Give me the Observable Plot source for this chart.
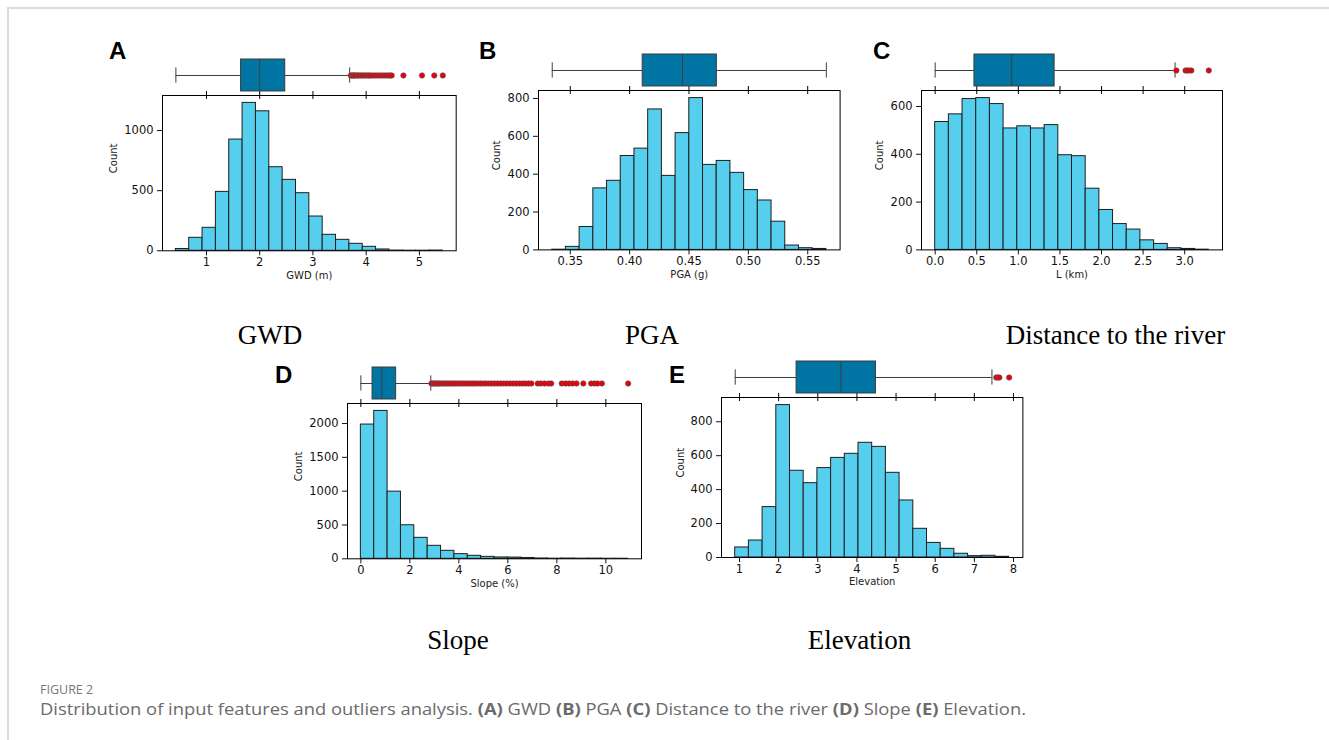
<!DOCTYPE html>
<html>
<head>
<meta charset="utf-8">
<script src="https://cdn.jsdelivr.net/npm/d3@7"></script>
<script src="https://cdn.jsdelivr.net/npm/@observablehq/plot@0.6"></script>
<style>
  html, body { margin: 0; padding: 0; background: #fff; }
  body { width: 1329px; height: 740px; position: relative; overflow: hidden; }
  .sheet { position: absolute; left: 7px; top: 7px; right: -2px; bottom: -2px;
           border-top: 2px solid #dcdcdc; border-left: 2px solid #dcdcdc; }
  .chart { position: absolute; }
  .chart svg { overflow: visible; display: block; background: transparent !important;
               font-family: "DejaVu Sans", sans-serif !important; font-size: 11.5px !important; }
  #labels { position: absolute; left: 0; top: 0; }
</style>
</head>
<body>
<div class="sheet"></div>
<div id="charts"></div>
<svg id="labels" width="1329" height="740"></svg>
<script>
// ---- Histogram counts (20 equal-width bins between the data minimum and maximum)
const gwdCounts   = [15, 108, 191, 490, 925, 1230, 1160, 695, 590, 479, 285, 133, 91, 58, 33, 11, 2, 1, 1, 2];
const pgaCounts   = [1, 16, 121, 325, 365, 496, 535, 742, 391, 617, 802, 449, 470, 407, 316, 261, 149, 23, 9, 5];
const riverCounts = [535, 567, 631, 635, 610, 508, 517, 508, 522, 396, 392, 256, 167, 108, 85, 40, 25, 7, 4, 1];
const slopeCounts = [1985, 2187, 993, 496, 310, 192, 118, 69, 44, 29, 20, 18, 12, 5, 2, 4, 2, 3, 1, 1];
const elevCounts  = [59, 100, 297, 898, 511, 438, 527, 587, 611, 676, 652, 499, 336, 169, 86, 51, 22, 8, 10, 4];

// ---- Box plot summaries: [lower whisker, Q1, median, Q3, upper whisker]
const gwdBox   = [0.425, 1.65, 2.00, 2.48, 3.69];
const pgaBox   = [0.3348, 0.411, 0.4445, 0.4735, 0.5657];
const riverBox = [0.0, 0.472, 0.92, 1.436, 2.884];
const slopeBox = [0.0, 0.477, 0.857, 1.44, 2.855];
const elevBox  = [0.89, 2.458, 3.59, 4.486, 7.45];

// ---- Outliers beyond the whiskers
const gwdOutliers = [3.71, 3.73, 3.75, 3.77, 3.79, 3.81, 3.84, 3.86, 3.89, 3.92, 3.95, 3.98, 4.01, 4.04,
  4.07, 4.10, 4.14, 4.18, 4.22, 4.26, 4.30, 4.34, 4.38, 4.42, 4.45, 4.48, 4.70, 5.05, 5.28, 5.44];
const pgaOutliers = [];
const riverOutliers = [2.90, 3.01, 3.03, 3.05, 3.08, 3.29];
const slopeOutliers = [2.88, 2.93, 2.98, 3.04, 3.10, 3.16, 3.22, 3.29, 3.36, 3.43, 3.50, 3.58, 3.66, 3.74,
  3.82, 3.90, 3.99, 4.08, 4.17, 4.26, 4.36, 4.46, 4.56, 4.66, 4.77, 4.88, 4.99, 5.10, 5.22, 5.34, 5.46,
  5.58, 5.70, 5.83, 5.96, 6.09, 6.22, 6.35, 6.48, 6.60, 6.72, 6.84, 6.96, 7.22, 7.35, 7.50, 7.66, 7.77,
  8.20, 8.36, 8.50, 8.64, 8.80, 9.08, 9.40, 9.54, 9.66, 9.84, 10.91];
const elevOutliers = [7.56, 7.60, 7.64, 7.89];

// ---- Tick values
const gwdXTicks = [1, 2, 3, 4, 5];
const pgaXTicks = [0.35, 0.40, 0.45, 0.50, 0.55];
const riverXTicks = [0.0, 0.5, 1.0, 1.5, 2.0, 2.5, 3.0];
const slopeXTicks = [0, 2, 4, 6, 8, 10];
const elevXTicks = [1, 2, 3, 4, 5, 6, 7, 8];
const gwdYTicks = [0, 500, 1000];
const pgaYTicks = [0, 200, 400, 600, 800];
const riverYTicks = [0, 200, 400, 600];
const slopeYTicks = [0, 500, 1000, 1500, 2000];
const elevYTicks = [0, 200, 400, 600, 800];

// ---- Labels
const panelLetters = ["A", "B", "C", "D", "E"];
const xLabels = ["GWD (m)", "PGA (g)", "L (km)", "Slope (%)", "Elevation"];
const panelTitles = ["GWD", "PGA", "Distance to the river", "Slope", "Elevation"];

// ---- Layout of each panel: histogram frame [left, top, right, bottom] in page pixels
const layout = [
  {frame: [162.3, 95.0, 456.0, 250.3], countDx: -49.0, letter: [109, 59], title: [270, 344], fmt: d3.format("d")},
  {frame: [537.7, 90.3, 839.3, 249.7], countDx: -41.7, letter: [479, 58.5], title: [652, 344], fmt: d3.format(".2f")},
  {frame: [920.7, 90.3, 1221.7, 249.7], countDx: -41.7, letter: [873, 59], title: [1115.5, 344], fmt: d3.format(".1f")},
  {frame: [346.7, 402.7, 640.7, 558.0], countDx: -48.4, letter: [275, 382.5], title: [458, 649], fmt: d3.format("d")},
  {frame: [721.3, 397.3, 1022.7, 557.3], countDx: -40.6, letter: [669, 383], title: [859.5, 649], fmt: d3.format("d")}
];

const series = [
  {counts: gwdCounts, box: gwdBox, outliers: gwdOutliers, xTicks: gwdXTicks, yTicks: gwdYTicks},
  {counts: pgaCounts, box: pgaBox, outliers: pgaOutliers, xTicks: pgaXTicks, yTicks: pgaYTicks},
  {counts: riverCounts, box: riverBox, outliers: riverOutliers, xTicks: riverXTicks, yTicks: riverYTicks},
  {counts: slopeCounts, box: slopeBox, outliers: slopeOutliers, xTicks: slopeXTicks, yTicks: slopeYTicks},
  {counts: elevCounts, box: elevBox, outliers: elevOutliers, xTicks: elevXTicks, yTicks: elevYTicks}
];

const BAR_FILL = "#56cfee";
const BAR_STROKE = "#1e1e1e";
const BOX_FILL = "#0074a2";
const BOX_STROKE = "#3d3d3d";
const OUT_FILL = "#e8000b";

const ML = 62, MR = 14, MT = 8, MB = 40;   // histogram margins
const BOX_H = 40, BMT = 2, BMB = 8;        // box-strip height and margins

const host = document.getElementById("charts");

function place(node, left, top) {
  const wrap = document.createElement("div");
  wrap.className = "chart";
  wrap.style.left = left + "px";
  wrap.style.top = top + "px";
  wrap.appendChild(node);
  host.appendChild(wrap);
}

series.forEach((s, i) => {
  const L = layout[i];
  const [fl, ft, fr, fb] = L.frame;
  const fw = fr - fl, fh = fb - ft;
  const lo = Math.min(s.box[0], ...s.outliers);
  const hi = Math.max(s.box[4], ...s.outliers);
  const pad = (hi - lo) * 0.05;
  const xDomain = [lo - pad, hi + pad];
  const n = s.counts.length;
  const step = (hi - lo) / n;
  const bins = s.counts.map((c, k) => ({x1: lo + k * step, x2: lo + (k + 1) * step, count: c}));
  const yMax = d3.max(s.counts) * 1.05;

  const width = ML + fw + MR;

  const hist = Plot.plot({
    width, height: MT + fh + MB,
    marginLeft: ML, marginRight: MR, marginTop: MT, marginBottom: MB,
    x: {domain: xDomain},
    y: {domain: [0, yMax]},
    style: {color: "#111"},
    marks: [
      Plot.rect(bins, {x1: "x1", x2: "x2", y1: 0, y2: "count", fill: BAR_FILL, stroke: BAR_STROKE, strokeWidth: 1, inset: 0}),
      Plot.frame({stroke: "#000", strokeWidth: 1}),
      Plot.axisX(s.xTicks, {tickSize: 5, tickPadding: 2, tickFormat: L.fmt, label: null}),
      Plot.axisY(s.yTicks, {tickSize: 5, tickPadding: 4, tickFormat: d3.format("d"), label: null}),
      Plot.text([xLabels[i]], {frameAnchor: "bottom", dy: 28, fontSize: 10, fill: "#222"}),
      Plot.text(["Count"], {frameAnchor: "left", dx: L.countDx, rotate: -90, fontSize: 10, fill: "#222"})
    ]
  });
  place(hist, fl - ML, ft - MT);

  const b = s.box;
  const strip = Plot.plot({
    width, height: BMT + BOX_H + BMB,
    marginLeft: ML, marginRight: MR, marginTop: BMT, marginBottom: BMB,
    x: {domain: xDomain, axis: null},
    y: {domain: [-0.5, 0.5], axis: null},
    marks: [
      Plot.ruleX(s.xTicks, {y1: -0.6, y2: -0.4, stroke: "#000", strokeWidth: 1}),
      Plot.ruleY([0], {x1: b[0], x2: b[1], stroke: BOX_STROKE, strokeWidth: 1}),
      Plot.ruleY([0], {x1: b[3], x2: b[4], stroke: BOX_STROKE, strokeWidth: 1}),
      Plot.ruleX([b[0], b[4]], {y1: -0.19, y2: 0.19, stroke: BOX_STROKE, strokeWidth: 1}),
      Plot.rect([b], {x1: (d) => d[1], x2: (d) => d[3], y1: -0.4, y2: 0.4, fill: BOX_FILL, stroke: BOX_STROKE, strokeWidth: 1}),
      Plot.ruleX([b[2]], {y1: -0.4, y2: 0.4, stroke: BOX_STROKE, strokeWidth: 1}),
      Plot.dot(s.outliers, {x: (d) => d, y: 0, r: 2.7, fill: OUT_FILL, stroke: "#555", strokeWidth: 0.6})
    ]
  });
  place(strip, fl - ML, ft - BOX_H - BMT);
});

// ---- Panel letters, titles and the figure caption
const svg = d3.select("#labels");
layout.forEach((L, i) => {
  svg.append("text").attr("x", L.letter[0]).attr("y", L.letter[1])
    .attr("font-family", "Liberation Sans, Arial, sans-serif").attr("font-weight", "bold")
    .attr("font-size", 24).attr("fill", "#000").text(panelLetters[i]);
  svg.append("text").attr("x", L.title[0]).attr("y", L.title[1]).attr("text-anchor", "middle")
    .attr("font-family", "Liberation Serif, Times New Roman, serif")
    .attr("font-size", 27).attr("fill", "#000").text(panelTitles[i]);
});

svg.append("text").attr("x", 40).attr("y", 694)
  .attr("font-family", "Open Sans, sans-serif").attr("font-size", 12.5).attr("fill", "#777")
  .text("FIGURE 2");

const caption = svg.append("text").attr("x", 40).attr("y", 715)
  .attr("font-family", "Open Sans, sans-serif").attr("font-size", 16.5).attr("fill", "#6b6b6b")
  .attr("textLength", 986).attr("lengthAdjust", "spacingAndGlyphs");
const parts = [
  ["Distribution of input features and outliers analysis. ", false],
  ["(A)", true], [" GWD ", false], ["(B)", true], [" PGA ", false], ["(C)", true],
  [" Distance to the river ", false], ["(D)", true], [" Slope ", false], ["(E)", true], [" Elevation.", false]
];
parts.forEach(([t, bold]) => {
  caption.append("tspan").attr("font-weight", bold ? "bold" : "normal").text(t);
});
</script>
</body>
</html>
